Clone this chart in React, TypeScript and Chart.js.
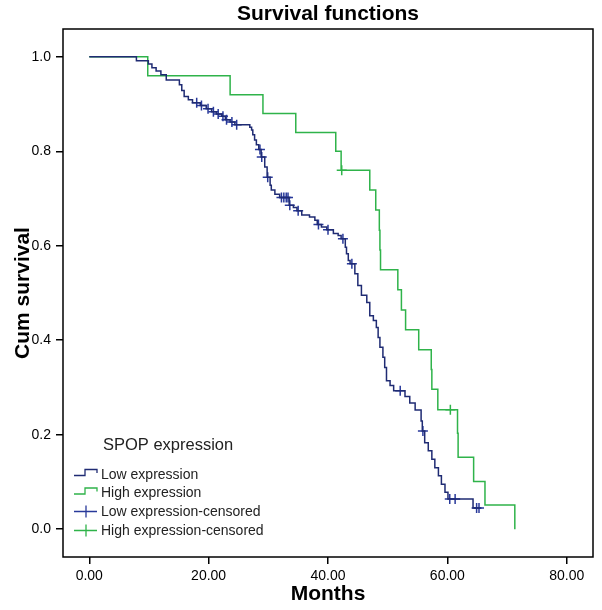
import React, { useEffect, useRef } from "react";
import { Chart, registerables } from "chart.js";

Chart.register(...registerables);

// ---- Data ----
const lowTimes = [
  0, 7.9, 9.9, 10.5, 11.2, 12.0, 12.9, 15.1, 15.5, 15.9, 16.6, 17.3, 18.6, 19.6, 20.5,
  21.3, 22.2, 22.8, 23.6, 24.4, 26.9, 27.2, 27.4, 27.7, 28.0, 28.4, 28.8, 29.4, 29.8,
  30.3, 30.5, 31.1, 31.9, 33.5, 34.2, 34.8, 35.6, 36.9, 37.8, 38.2, 38.9, 39.8, 40.9,
  41.7, 42.2, 42.9, 43.1, 43.4, 43.7, 44.5, 45.0, 45.6, 46.5, 47.0, 47.6, 48.1, 48.4,
  48.7, 49.2, 49.5, 49.8, 50.4, 51.0, 52.9, 53.7, 54.6, 55.6, 55.8, 56.2, 56.8, 57.4,
  57.9, 58.5, 59.0, 59.6, 60.1, 64.3, 65.6,
];
const lowSurv = [
  1.0, 0.992, 0.985, 0.977, 0.97, 0.962, 0.951, 0.941, 0.929, 0.916, 0.909, 0.903, 0.897,
  0.89, 0.884, 0.879, 0.874, 0.867, 0.862, 0.856, 0.851, 0.845, 0.835, 0.824, 0.814,
  0.804, 0.788, 0.767, 0.745, 0.728, 0.718, 0.709, 0.702, 0.686, 0.681, 0.674, 0.665,
  0.661, 0.654, 0.645, 0.64, 0.634, 0.626, 0.622, 0.615, 0.597, 0.583, 0.569, 0.562,
  0.541, 0.516, 0.495, 0.48, 0.452, 0.442, 0.427, 0.406, 0.385, 0.364, 0.342, 0.314,
  0.304, 0.293, 0.281, 0.267, 0.252, 0.229, 0.208, 0.183, 0.166, 0.148, 0.13, 0.113,
  0.095, 0.078, 0.064, 0.045, 0.045,
];
const lowCensorTimes = [
  18.0, 18.8, 19.9, 20.8, 21.6, 22.4, 23.0, 23.9, 24.7, 28.6, 28.9, 29.9, 32.2, 32.6,
  33.0, 33.3, 33.6, 35.0, 38.4, 40.0, 42.5, 44.0, 52.1, 55.9, 60.4, 61.3, 64.9, 65.3,
];
const lowCensorSurv = [
  0.903, 0.897, 0.89, 0.884, 0.879, 0.874, 0.867, 0.862, 0.856, 0.804, 0.788, 0.745,
  0.702, 0.702, 0.702, 0.702, 0.686, 0.674, 0.645, 0.634, 0.615, 0.562, 0.293, 0.208,
  0.064, 0.064, 0.045, 0.045,
];
const highTimes = [
  0, 9.8, 23.6, 29.1, 34.6, 41.3, 42.2, 47.0, 48.0, 48.6, 48.7, 48.8, 51.7, 52.3, 53.0,
  55.2, 57.3, 57.4, 58.4, 61.7, 61.8, 64.4, 66.3, 71.3,
];
const highSurv = [
  1.0, 0.96, 0.92, 0.88, 0.84, 0.8, 0.76, 0.718, 0.676, 0.633, 0.591, 0.549, 0.507,
  0.464, 0.422, 0.38, 0.338, 0.296, 0.253, 0.203, 0.152, 0.101, 0.051, 0.0,
];
const highCensorTimes = [42.3, 60.5];
const highCensorSurv = [0.76, 0.253];

const xTicks = [0, 20, 40, 60, 80];
const yTicks = [0, 0.2, 0.4, 0.6, 0.8, 1.0];
const legendTitle = "SPOP expression";
const legendLabels = [
  "Low expression",
  "High expression",
  "Low expression-censored",
  "High expression-censored",
];

const FONT = '"Liberation Sans", Arial, sans-serif';
const BLUE = "#1f2b73";
const BLUE_MARK = "#28399a";
const GREEN = "#2fb34a";

const zip = (xs: number[], ys: number[]) => xs.map((x, i) => ({ x, y: ys[i] }));

const framePlugin = {
  id: "frame",
  afterDraw(chart: any) {
    const { ctx, chartArea } = chart;
    ctx.save();
    ctx.strokeStyle = "#000";
    ctx.lineWidth = 1.5;
    ctx.strokeRect(
      chartArea.left,
      chartArea.top,
      chartArea.right - chartArea.left,
      chartArea.bottom - chartArea.top
    );
    ctx.restore();
  },
};

const legendPlugin = {
  id: "kmLegend",
  afterDraw(chart: any) {
    const ctx = chart.ctx;
    ctx.save();
    ctx.textBaseline = "middle";
    ctx.textAlign = "left";
    ctx.fillStyle = "#222";
    ctx.font = `16.5px ${FONT}`;
    ctx.fillText(legendTitle, 103, 445);
    const rows = [474, 492.5, 511.5, 530.5];
    const colors = [BLUE, GREEN, BLUE_MARK, GREEN];
    ctx.font = `14px ${FONT}`;
    legendLabels.forEach((label, i) => {
      const y = rows[i];
      ctx.strokeStyle = colors[i];
      ctx.lineWidth = 1.3;
      ctx.beginPath();
      if (i < 2) {
        ctx.moveTo(74, y + 1.5);
        ctx.lineTo(85, y + 1.5);
        ctx.lineTo(85, y - 4.5);
        ctx.lineTo(97, y - 4.5);
        ctx.lineTo(97, y - 1);
      } else {
        ctx.moveTo(74, y);
        ctx.lineTo(97, y);
        ctx.moveTo(86, y - 6);
        ctx.lineTo(86, y + 6);
      }
      ctx.stroke();
      ctx.fillStyle = "#222";
      ctx.fillText(label, 101, y + 1);
    });
    ctx.restore();
  },
};

export default function App() {
  const ref = useRef<HTMLCanvasElement | null>(null);

  useEffect(() => {
    if (!ref.current) return;
    const chart = new Chart(ref.current, {
      type: "line",
      data: {
        datasets: [
          {
            label: "Low expression",
            data: zip(lowTimes, lowSurv),
            borderColor: BLUE,
            borderWidth: 1.5,
            pointRadius: 0,
            stepped: "before",
            fill: false,
          },
          {
            label: "High expression",
            data: zip(highTimes, highSurv),
            borderColor: GREEN,
            borderWidth: 1.5,
            pointRadius: 0,
            stepped: "before",
            fill: false,
          },
          {
            label: "Low expression-censored",
            data: zip(lowCensorTimes, lowCensorSurv),
            showLine: false,
            pointStyle: "cross",
            pointRadius: 5,
            pointBorderWidth: 1.5,
            borderColor: BLUE_MARK,
            pointBorderColor: BLUE_MARK,
          },
          {
            label: "High expression-censored",
            data: zip(highCensorTimes, highCensorSurv),
            showLine: false,
            pointStyle: "cross",
            pointRadius: 5,
            pointBorderWidth: 1.5,
            borderColor: GREEN,
            pointBorderColor: GREEN,
          },
        ],
      } as any,
      options: {
        animation: false,
        responsive: false,
        events: [],
        layout: { padding: { left: 0, right: 9, top: 0, bottom: 0 } },
        plugins: {
          legend: { display: false },
          tooltip: { enabled: false },
          title: {
            display: true,
            text: "Survival functions",
            fullSize: false,
            color: "#000",
            font: { family: FONT, size: 21, weight: "bold" },
            padding: { top: 2, bottom: 1.8 },
          },
        },
        scales: {
          x: {
            type: "linear",
            min: -4.4,
            max: 84.4,
            afterBuildTicks: (s: any) => {
              s.ticks = xTicks.map((v) => ({ value: v }));
            },
            afterFit: (s: any) => {
              s.height = 53;
            },
            ticks: {
              callback: (v: any) => Number(v).toFixed(2),
              color: "#000",
              font: { family: FONT, size: 14 },
              padding: 4,
              maxRotation: 0,
              autoSkip: false,
            },
            grid: {
              display: true,
              drawOnChartArea: false,
              drawTicks: true,
              tickLength: 7,
              color: "#000",
              lineWidth: 1.5,
            },
            border: { display: false },
            title: {
              display: true,
              text: "Months",
              color: "#000",
              font: { family: FONT, size: 21, weight: "bold" },
              padding: { top: 0, bottom: 3 },
            },
          },
          y: {
            type: "linear",
            min: -0.059,
            max: 1.059,
            afterBuildTicks: (s: any) => {
              s.ticks = yTicks.map((v) => ({ value: v }));
            },
            afterFit: (s: any) => {
              s.width = 63;
            },
            ticks: {
              callback: (v: any) => Number(v).toFixed(1),
              color: "#000",
              font: { family: FONT, size: 14 },
              padding: 5,
              autoSkip: false,
            },
            grid: {
              display: true,
              drawOnChartArea: false,
              drawTicks: true,
              tickLength: 7,
              color: "#000",
              lineWidth: 1.5,
            },
            border: { display: false },
            title: {
              display: true,
              text: "Cum survival",
              color: "#000",
              font: { family: FONT, size: 21, weight: "bold" },
              padding: { top: 11, bottom: 0 },
            },
          },
        },
      } as any,
      plugins: [framePlugin, legendPlugin],
    });
    return () => chart.destroy();
  }, []);

  return (
    <div
      style={{
        position: "fixed",
        left: 0,
        top: 0,
        width: 602,
        height: 610,
        background: "#fff",
      }}
    >
      <canvas
        ref={ref}
        width={602}
        height={610}
        style={{ display: "block", width: 602, height: 610 }}
      />
    </div>
  );
}
